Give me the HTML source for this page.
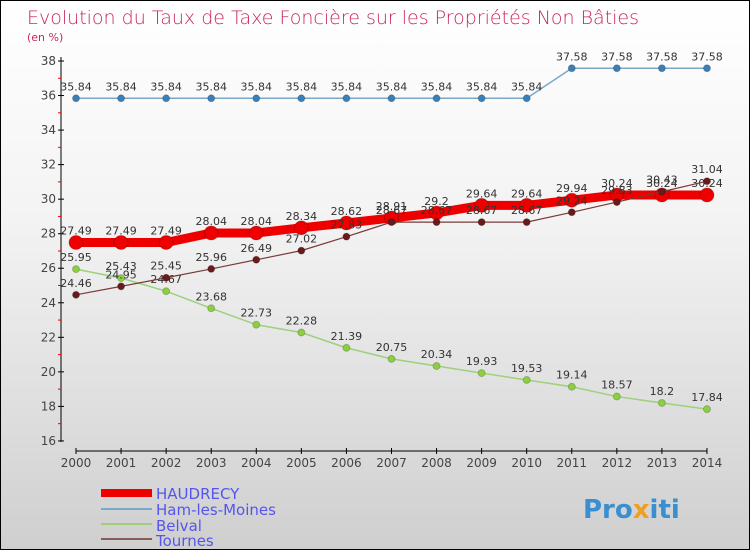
<!DOCTYPE html>
<html><head><meta charset="utf-8"><style>
body{margin:0}
#c{width:748px;height:548px;border:1px solid #000;background:linear-gradient(#fff,#f3f3f3 40%,#cfcfcf);position:relative;font-family:"DejaVu Sans","Liberation Sans",sans-serif;overflow:hidden}
</style></head><body>
<div id="c">
<svg id="s" width="748" height="548" xmlns="http://www.w3.org/2000/svg">
<text x="26" y="23" font-size="19" fill="#c8285a" font-family="DejaVu Sans" font-weight="200">Evolution du Taux de Taxe Foncière sur les Propriétés Non Bâties</text>
<text x="26" y="40" font-size="11" fill="#c8285a">(en %)</text>
<g id="axes"></g><g id="series"></g>
<g>
<rect x="100" y="488" width="51" height="8" fill="#e00"/>
<text x="155" y="498" font-size="15" fill="#5555ee">HAUDRECY</text>
<rect x="100" y="507" width="51" height="2" fill="#7aa8c8"/>
<text x="155" y="514" font-size="15" fill="#5555ee">Ham-les-Moines</text>
<rect x="100" y="522" width="51" height="2" fill="#9ed07a"/>
<text x="155" y="530" font-size="15" fill="#5555ee">Belval</text>
<rect x="100" y="537" width="51" height="2" fill="#8a5a5a"/>
<text x="155" y="545" font-size="15" fill="#5555ee">Tournes</text>
</g>
<text x="582" y="517" font-size="26" font-weight="bold" fill="#3a8fd0">Pro<tspan fill="#f0a020">x</tspan>iti</text>
</svg></div>
<script>
const years=[2000,2001,2002,2003,2004,2005,2006,2007,2008,2009,2010,2011,2012,2013,2014];
const yTicks=[16,18,20,22,24,26,28,30,32,34,36,38];
const haudrecy=[27.49,27.49,27.49,28.04,28.04,28.34,28.62,28.91,29.2,29.64,29.64,29.94,30.24,30.24,30.24];
const ham=[35.84,35.84,35.84,35.84,35.84,35.84,35.84,35.84,35.84,35.84,35.84,37.58,37.58,37.58,37.58];
const belval=[25.95,25.43,24.67,23.68,22.73,22.28,21.39,20.75,20.34,19.93,19.53,19.14,18.57,18.2,17.84];
const tournes=[24.46,24.95,25.45,25.96,26.49,27.02,27.83,28.67,28.67,28.67,28.67,29.24,29.83,30.43,31.04];
const NS="http://www.w3.org/2000/svg";
const X=i=>75+i*45.07, Y=v=>60+(38-v)*17.27;
function mk(t,a,p){const e=document.createElementNS(NS,t);for(const k in a)e.setAttribute(k,a[k]);p.appendChild(e);return e;}
const ax=document.getElementById('axes');
let e=mk('line',{x1:60,y1:56,x2:60,y2:441,stroke:'#000'},ax);


e=mk('line',{x1:75,y1:450,x2:706,y2:450,stroke:'#000'},ax);


yTicks.forEach(v=>{mk('line',{x1:57,x2:63,y1:Y(v),y2:Y(v),stroke:'#000'},ax);
 if(v<38)mk('line',{x1:57,x2:60,y1:Y(v+1),y2:Y(v+1),stroke:'#e00'},ax);
 const t=mk('text',{x:55,y:Y(v)+4,'font-size':12,fill:'#444','text-anchor':'end'},ax);t.textContent=v;
 
 });
years.forEach((y,i)=>{mk('line',{x1:X(i),x2:X(i),y1:447,y2:453,stroke:'#000'},ax);
 const t=mk('text',{x:X(i),y:466,'font-size':12,fill:'#444','text-anchor':'middle'},ax);t.textContent=y;
 
 });
const sg=document.getElementById('series');
function draw(name,data,color,w,r,dot){
 const g=mk('g',{},sg);
 
 
 mk('polyline',{points:data.map((v,i)=>X(i)+','+Y(v)).join(' '),fill:'none',stroke:color,'stroke-width':w},g);
 data.forEach((v,i)=>{const c=mk('circle',{cx:X(i),cy:Y(v),r:r,fill:dot,stroke:'#0003'},g);
  
  
  const t=mk('text',{x:X(i),y:Y(v)-8,'font-size':11,fill:'#333','text-anchor':'middle'},g);t.textContent=v;
  
  });
}
draw('ham',ham,'#7aa8c8',1.5,3.5,'#3a7fb8');
draw('belval',belval,'#9ed07a',1.5,3.5,'#8cd040');
draw('haudrecy',haudrecy,'#e00',9,7,'#e00');
draw('tournes',tournes,'#7a3a3a',1.2,3.5,'#6a1a1a');
</script>
</body></html>
